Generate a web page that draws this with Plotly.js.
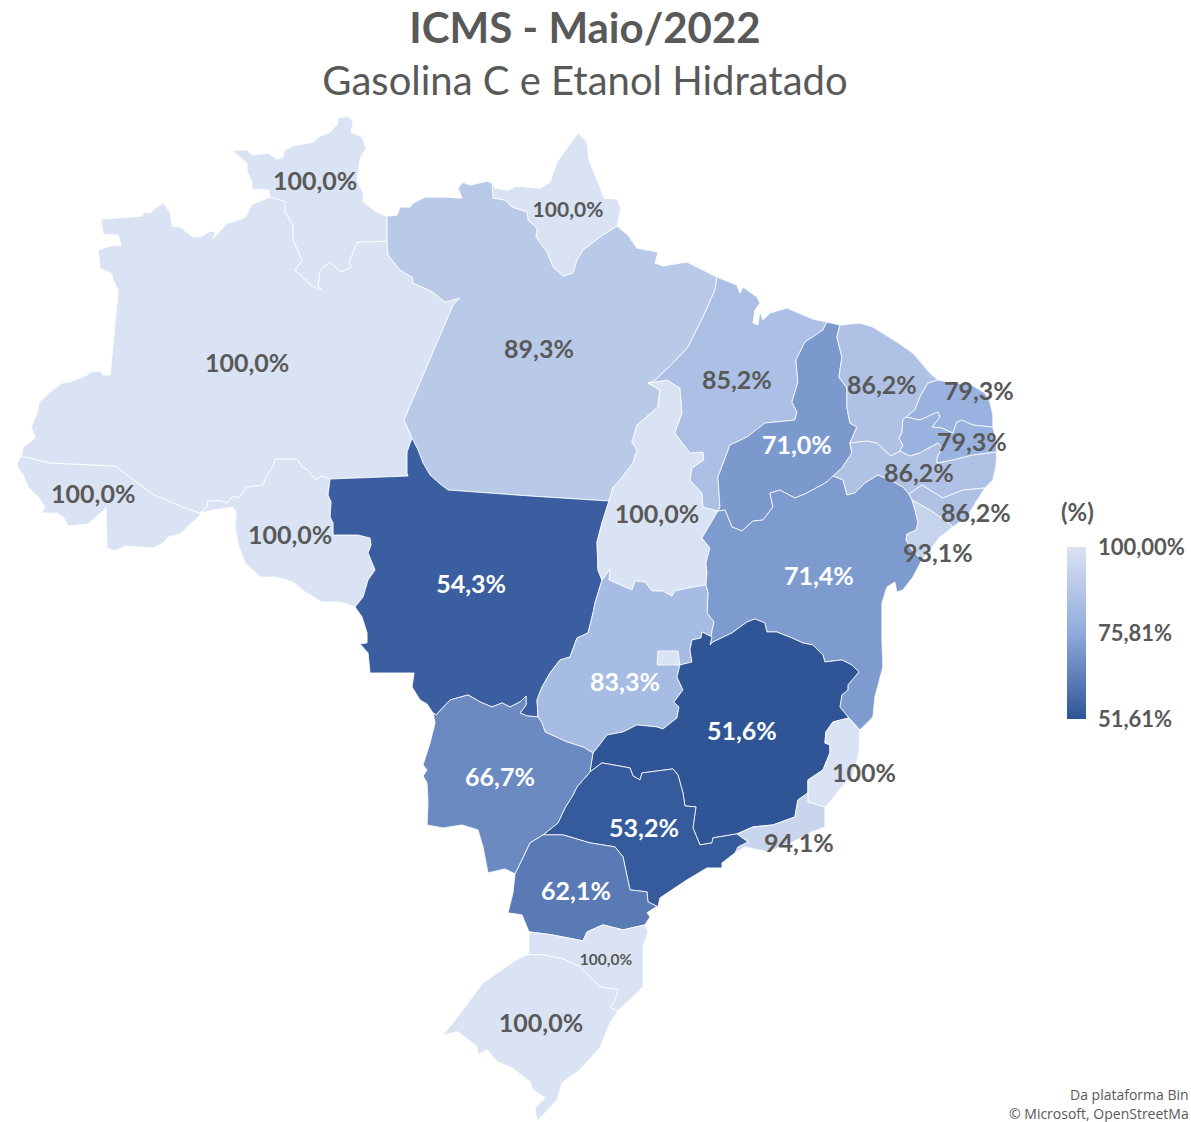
<!DOCTYPE html>
<html><head><meta charset="utf-8">
<script src="https://cdn.plot.ly/plotly-3.0.1.min.js"></script>
<style>html,body{margin:0;padding:0;background:#fff;overflow:hidden}#chart{width:1191px;height:1122px}</style>
</head><body><div id="chart"></div>
<script>
// ---------- chart values ----------
const states = ['AC','AM','RR','AP','PA','RO','MT','TO','MA','PI','CE','RN','PB','PE','AL','SE','BA','GO','MG','ES','RJ','SP','MS','PR','SC','RS','DF'];
const icms   = [100,100,100,100,89.3,100,54.3,100,85.2,71.0,86.2,79.3,79.3,86.2,86.2,93.1,71.4,83.3,51.61,100,94.1,53.2,66.7,62.1,100,100,100];
const labels = ['100,0%','100,0%','100,0%','100,0%','89,3%','100,0%','54,3%','100,0%','85,2%','71,0%','86,2%','79,3%','79,3%','86,2%','86,2%','93,1%','71,4%','83,3%','51,6%','100%','94,1%','53,2%','66,7%','62,1%','100,0%','100,0%',''];
const legendTicks = [51.61,75.81,100];
const legendText  = ['51,61%','75,81%','100,00%'];

// ---------- state borders (map-grid units) ----------
const acAm=[[21,456],[50,463],[115,466],[152,494],[183,507],[200,513]];
const acOut=[[21,456],[17,463],[18,468],[23,475],[28,487],[38,497],[45,507],[41,513],[57,513],[63,517],[68,526],[88,524],[106,508],[106,523],[107,548],[115,551],[125,546],[153,548],[163,543],[168,537],[180,534],[200,515],[200,513]];
const amOut=[[21,456],[23,447],[35,438],[31,427],[37,413],[39,402],[50,392],[62,383],[70,382],[87,375],[90,372],[100,371],[103,375],[110,375],[118,290],[112,278],[112,274],[100,268],[98,250],[110,246],[121,245],[118,235],[103,234],[101,219],[142,216],[144,212],[150,213],[155,208],[163,203],[170,212],[172,226],[180,227],[193,237],[202,236],[210,231],[215,232],[213,238],[218,233],[227,223],[233,222],[245,217],[252,204],[270,197]];
const amRr=[[270,197],[285,201],[285,212],[293,225],[293,240],[302,260],[295,270],[312,286],[322,290],[318,286],[320,270],[330,262],[341,272],[351,267],[349,262],[357,242],[387,241]];
const rrOut=[[270,197],[269,190],[252,189],[252,182],[247,172],[247,163],[228,147],[233,150],[247,150],[252,155],[268,153],[277,159],[283,157],[284,150],[293,146],[313,142],[318,137],[330,132],[338,123],[337,118],[348,116],[353,121],[351,132],[362,137],[366,148],[360,158],[357,180],[363,193],[363,202],[377,212],[387,216]];
const rrPa=[[387,216],[387,241]];
const amPa=[[387,241],[388,255],[400,270],[412,277],[413,283],[433,292],[445,302],[460,298],[453,305],[404,420],[412,438]];
const amMt=[[412,438],[407,452],[407,473],[408,476],[330,479]];
const amRo=[[330,479],[322,476],[315,480],[308,470],[302,467],[297,459],[275,459],[272,468],[267,475],[263,485],[247,487],[238,498],[233,496],[227,503],[220,501],[208,501],[207,507],[200,513]];
const roOut=[[200,513],[208,511],[220,509],[232,507],[236,512],[235,527],[238,545],[245,563],[260,577],[275,577],[293,582],[305,592],[322,602],[340,602],[355,607]];
const roMt=[[330,479],[328,495],[331,502],[330,517],[333,523],[333,535],[358,535],[370,538],[371,545],[368,553],[375,570],[368,580],[363,597],[355,607]];
const mtOut=[[355,607],[362,617],[367,633],[367,643],[360,644],[368,653],[370,673],[414,673],[412,687],[420,700],[427,704],[433,713]];
const mtMs=[[433,713],[436,715],[450,700],[468,695],[480,702],[492,707],[502,703],[510,707],[520,702],[526,696],[526,705],[520,713],[527,716],[538,717]];
const mtGo=[[538,717],[537,700],[542,687],[550,673],[560,660],[570,657],[577,638],[588,633],[593,613],[595,603],[602,580]];
const mtTo=[[609,501],[602,523],[597,542],[598,570],[602,580]];
const paMt=[[412,438],[418,450],[423,463],[430,475],[440,484],[448,490],[609,501]];
const paTo=[[648,383],[660,390],[658,407],[637,425],[632,442],[637,450],[633,463],[620,480],[613,487],[609,501]];
const paNorth=[[387,216],[397,215],[400,207],[410,207],[413,203],[425,197],[433,197],[445,197],[462,198],[458,188],[463,182],[470,185],[487,181],[492,183]];
const apOut=[[492,183],[495,188],[508,190],[517,186],[540,188],[550,182],[557,162],[578,133],[587,142],[589,160],[600,187],[604,198],[617,199],[621,208],[617,226]];
const apPa=[[492,183],[493,198],[505,200],[512,207],[527,212],[528,220],[537,228],[536,237],[547,252],[553,267],[563,276],[573,273],[577,260],[583,250],[600,237],[617,226]];
const paCoast=[[617,226],[628,235],[637,248],[658,252],[655,263],[663,266],[687,262],[717,277]];
const paMa=[[717,277],[715,290],[703,317],[688,347],[673,363],[655,380],[648,383]];
const toMa=[[648,383],[667,380],[680,388],[682,413],[675,433],[690,453],[703,452],[704,460],[692,468],[690,480],[702,493],[703,507],[718,511]];
const toBa=[[718,511],[702,538],[710,548],[706,563],[707,573],[706,585]];
const toGo=[[602,580],[604,578],[610,569],[609,580],[632,590],[635,581],[645,582],[652,591],[663,591],[672,596],[675,591],[693,587],[706,585]];
const maCoast=[[717,277],[737,285],[740,293],[743,287],[757,297],[760,303],[755,310],[753,323],[758,325],[760,312],[763,320],[770,313],[787,308],[813,319],[827,322]];
const maPi=[[718,511],[720,507],[718,477],[730,445],[747,437],[765,423],[795,420],[797,412],[792,402],[798,382],[796,360],[805,342],[823,330],[827,322]];
const piCoast=[[827,322],[840,325]];
const piCe=[[840,325],[837,337],[842,357],[839,377],[847,388],[847,407],[850,423],[857,427],[850,443]];
const piPe=[[850,443],[852,453],[842,468],[833,476]];
const piBa=[[833,476],[827,482],[807,493],[795,498],[780,490],[770,493],[773,507],[763,520],[753,521],[742,531],[732,527],[725,510],[718,511]];
const ceCoast=[[840,325],[860,323],[873,327],[897,342],[913,353],[930,373],[938,380]];
const ceRn=[[938,380],[928,383],[920,397],[915,410],[906,417]];
const cePb=[[906,417],[903,420],[902,433],[899,438],[903,445],[900,451]];
const cePe=[[850,443],[867,441],[877,443],[891,456],[900,451]];
const rnCoast=[[938,380],[955,383],[972,385],[985,393],[990,402],[993,415],[993,427]];
const rnPb=[[906,417],[920,420],[938,412],[940,417],[932,427],[942,428],[953,433],[957,422],[962,420],[973,425],[993,427]];
const pbCoast=[[993,427],[996,438],[997,452]];
const pbPe=[[900,451],[910,456],[920,453],[938,443],[942,447],[937,458],[937,463],[953,460],[973,455],[997,452]];
const peCoast=[[997,452],[996,467],[993,480],[985,488]];
const peAl=[[909,494],[922,485],[930,490],[943,498],[963,490],[985,488]];
const peBa=[[833,476],[843,480],[847,495],[855,493],[865,483],[878,475],[890,480],[903,487],[909,494]];
const alBa=[[909,494],[912,500]];
const alCoast=[[985,488],[973,507],[967,517],[953,527]];
const alSe=[[912,500],[930,510],[945,520],[953,527]];
const seCoast=[[953,527],[940,537],[922,560]];
const seBa=[[912,500],[915,510],[918,523],[916,530],[907,534],[906,540],[912,550],[922,560]];
const baCoast=[[922,560],[913,577],[903,590],[897,592],[895,582],[887,587],[882,603],[882,640],[883,667],[875,697],[873,717],[860,730]];
const esBa=[[849,718],[860,730]];
const baMg=[[849,718],[840,707],[842,695],[848,690],[848,685],[859,672],[852,665],[842,660],[825,662],[823,655],[813,645],[803,643],[792,638],[777,632],[767,632],[765,623],[755,619],[747,622],[732,633],[713,642],[710,645]];
const goBa=[[706,585],[708,593],[707,613],[714,622],[712,630],[710,645]];
const goMg=[[710,645],[712,637],[702,632],[701,638],[692,640],[690,650],[692,662],[680,665],[677,677],[683,690],[674,702],[679,707],[677,718],[663,729],[657,727],[637,725],[623,732],[607,735],[598,747],[593,753]];
const goMs=[[538,717],[542,723],[545,732],[567,742],[583,747],[593,753]];
const mgMs=[[593,753],[591,765],[590,772]];
const msSp=[[590,772],[577,787],[573,795],[565,808],[558,823],[543,835]];
const msPr=[[543,835],[530,843],[522,860],[515,874]];
const msOut=[[433,713],[435,723],[430,743],[423,765],[427,770],[423,776],[427,783],[428,803],[427,825],[443,828],[462,825],[478,830],[483,847],[488,873],[505,869],[515,874]];
const spMg=[[590,772],[602,763],[630,768],[633,776],[640,780],[642,773],[673,769],[678,775],[683,793],[685,806],[696,807],[693,828],[700,845],[712,843],[713,838],[737,834]];
const spRj=[[737,834],[748,842],[738,847],[735,853]];
const spCoast=[[658,907],[660,898],[687,880],[707,868],[722,868],[722,863],[735,853]];
const prSp=[[543,835],[563,835],[590,843],[615,847],[623,857],[630,890],[647,892],[648,902],[658,907]];
const prCoast=[[658,907],[656,907],[647,913],[650,917],[645,925]];
const prSc=[[529,932],[552,935],[583,941],[587,932],[603,925],[623,930],[645,925]];
const prOut=[[515,874],[513,893],[508,913],[522,915],[529,932]];
const mgEs=[[849,718],[833,722],[826,732],[825,743],[830,745],[830,753],[823,770],[808,780],[808,793]];
const mgRj=[[808,793],[798,800],[795,817],[773,825],[753,827],[737,834]];
const esCoast=[[860,730],[859,753],[853,775],[842,787],[830,802],[825,807]];
const rjEs=[[825,807],[808,802],[808,793]];
const rjCoast=[[735,853],[745,847],[768,852],[793,842],[812,832],[825,827],[825,807]];
const scWest=[[529,932],[529,952],[527,955]];
const scCoast=[[645,925],[648,932],[643,947],[643,987],[637,993],[618,1011]];
const scRs=[[527,955],[543,955],[563,959],[580,967],[600,987],[618,990],[615,1000],[610,1008],[618,1011]];
const rsOut=[[527,955],[513,962],[502,970],[483,983],[468,1003],[453,1023],[443,1035],[458,1032],[477,1047],[478,1055],[487,1050],[497,1062],[512,1068],[530,1082],[533,1090],[545,1098],[535,1108],[537,1121],[545,1113],[557,1100],[562,1083],[580,1070],[600,1048],[610,1023],[618,1011]];
const dfBox=[[658,651],[678,651],[680,665],[657,665],[658,651]];

// label anchor points on the same grid
const labelGridX=[93,247,315,568,539,290,471,657,737,797,882,979,972,919,976,938,819,625,742,864,799,644,500,576,606,541,668];
const labelGridY=[497,366,184,212,352,538,587,517,383,448,388,394,445,476,516,556,579,685,734,776,846,831,780,894,961,1026,661];
const labelSizes=[25,25,25,21,25,25,25,25,25,25,25,25,25,25,25,25,25,25,25,25,25,25,25,25,15.5,25,10];
const whiteLabels=['MT','PI','BA','GO','MG','SP','MS','PR'];

// ---------- geometry assembly ----------
const rev=a=>a.slice().reverse();
const outlines={
 AC:[acOut,rev(acAm)],
 AM:[amOut,amRr,amPa,amMt,amRo,rev(acAm)],
 RR:[rrOut,rrPa,rev(amRr)],
 AP:[apOut,rev(apPa)],
 PA:[paNorth,apPa,paCoast,paMa,paTo,rev(paMt),rev(amPa),rev(rrPa)],
 RO:[roOut,rev(roMt),amRo],
 MT:[paMt,mtTo,rev(mtGo),rev(mtMs),rev(mtOut),rev(roMt),rev(amMt)],
 TO:[rev(paTo),toMa,toBa,rev(toGo),rev(mtTo)],
 MA:[maCoast,rev(maPi),rev(toMa),rev(paMa)],
 PI:[piCoast,piCe,piPe,piBa,maPi],
 CE:[ceCoast,ceRn,cePb,rev(cePe),rev(piCe)],
 RN:[rnCoast,rev(rnPb),rev(ceRn)],
 PB:[rnPb,pbCoast,rev(pbPe),rev(cePb)],
 PE:[cePe,pbPe,peCoast,rev(peAl),rev(peBa),rev(piPe)],
 AL:[peAl,alCoast,rev(alSe),rev(alBa)],
 SE:[alSe,seCoast,rev(seBa)],
 BA:[rev(piBa),peBa,alBa,seBa,baCoast,rev(esBa),baMg,rev(goBa),rev(toBa)],
 GO:[toGo,goBa,goMg,rev(goMs),mtGo],
 MG:[rev(baMg),mgEs,mgRj,rev(spMg),rev(mgMs),rev(goMg)],
 ES:[esBa,esCoast,rjEs,rev(mgEs)],
 RJ:[rev(mgRj),rev(rjEs),rev(rjCoast),rev(spRj)],
 SP:[spMg,spRj,rev(spCoast),rev(prSp),rev(msSp)],
 MS:[mtMs,goMs,mgMs,msSp,msPr,rev(msOut)],
 PR:[rev(msPr),prSp,prCoast,rev(prSc),rev(prOut)],
 SC:[prSc,scCoast,rev(scRs),rev(scWest)],
 RS:[scRs,rev(rsOut)],
 DF:[dfBox]
};
// grid -> degrees (Mercator, 25 grid units per degree of longitude)
const R=25*180/Math.PI, EQ=248;
const lonOf=x=>-74+(x-18)/25;
const latOf=y=>(2*Math.atan(Math.exp((EQ-y)/R))-Math.PI/2)*180/Math.PI;
function ring(parts){
  const pts=[];
  parts.forEach(p=>p.forEach(q=>{const l=pts[pts.length-1];
    if(!l||l[0]!==q[0]||l[1]!==q[1])pts.push(q);}));
  const f=pts[0],l=pts[pts.length-1];
  if(f[0]!==l[0]||f[1]!==l[1])pts.push(f);
  const c=pts.map(p=>[lonOf(p[0]),latOf(p[1])]);
  let a=0;for(let i=0;i<c.length-1;i++)a+=c[i][0]*c[i+1][1]-c[i+1][0]*c[i][1];
  return a>0?c.reverse():c;   // clockwise exterior, as d3-geo expects
}
const brazil={type:'FeatureCollection',features:states.map(s=>({type:'Feature',id:s,properties:{},geometry:{type:'Polygon',coordinates:[ring(outlines[s])]}}))};

// no base layers are drawn, so no world map has to be downloaded
window.PlotlyGeoAssets=window.PlotlyGeoAssets||{topojson:{}};
window.PlotlyGeoAssets.topojson.world_110m={type:'Topology',objects:{},arcs:[]};

const GREY='#595959', FONT='Lato, "Open Sans", sans-serif';
const data=[{
  type:'choropleth',geojson:brazil,locationmode:'geojson-id',featureidkey:'id',
  locations:states,z:icms,zmin:51.61,zmax:100,hoverinfo:'location+z',
  colorscale:[[0,'#2F5597'],[0.5,'#8FAADC'],[1,'#DAE3F3']],
  marker:{line:{color:'#FFFFFF',width:0.8}},
  colorbar:{x:1067/1191,xanchor:'left',y:1-547/1122,yanchor:'top',xref:'paper',yref:'paper',
    thickness:19,thicknessmode:'pixels',len:172,lenmode:'pixels',xpad:0,ypad:0,
    outlinewidth:0,borderwidth:0,ticks:'outside',ticklen:8,tickwidth:1,tickcolor:'rgba(0,0,0,0)',
    tickvals:legendTicks,ticktext:legendText,
    tickfont:{family:FONT,size:22,color:GREY,weight:'bold'}}
},{
  type:'scattergeo',mode:'text',hoverinfo:'skip',showlegend:false,
  lon:labelGridX.map(lonOf),lat:labelGridY.map(latOf),text:labels,
  textposition:'middle center',
  textfont:{family:FONT,weight:'bold',size:labelSizes,color:states.map(s=>whiteLabels.includes(s)?'#FFFFFF':GREY)}
}];
const layout={
  width:1191,height:1122,margin:{l:0,r:0,t:0,b:0,pad:0},paper_bgcolor:'#fff',showlegend:false,
  title:{text:'<b><span style="font-size:42px">ICMS - Maio/2022</span></b><br>Gasolina C e Etanol Hidratado',
    font:{family:FONT,size:40,color:GREY},x:585/1191,xanchor:'center',y:0.962,yanchor:'top',automargin:false},
  geo:{domain:{x:[0,1],y:[0,1]},projection:{type:'mercator',scale:1.0045},
    center:{lon:lonOf(595.5),lat:latOf(561)},
    lonaxis:{range:[lonOf(0),lonOf(1191)],showgrid:false},lataxis:{range:[latOf(1122),latOf(0)],showgrid:false},
    showland:false,showocean:false,showlakes:false,showrivers:false,showcountries:false,showsubunits:false,
    showcoastlines:false,showframe:false,bgcolor:'rgba(0,0,0,0)'},
  annotations:[
    {xref:'paper',yref:'paper',x:1059/1191,y:1-511/1122,xanchor:'left',yanchor:'middle',text:'(%)',showarrow:false,
     font:{family:FONT,size:24,color:GREY,weight:'bold'}},
    {xref:'paper',yref:'paper',x:1,y:1-1094/1122,xanchor:'right',yanchor:'middle',text:'Da plataforma Bin',showarrow:false,
     font:{family:'"Open Sans", sans-serif',size:14,color:GREY}},
    {xref:'paper',yref:'paper',x:1,y:1-1113/1122,xanchor:'right',yanchor:'middle',text:'© Microsoft, OpenStreetMa',showarrow:false,
     font:{family:'"Open Sans", sans-serif',size:14,color:GREY}}
  ]
};
Plotly.newPlot('chart',data,layout,{displayModeBar:false,staticPlot:true});
</script></body></html>
